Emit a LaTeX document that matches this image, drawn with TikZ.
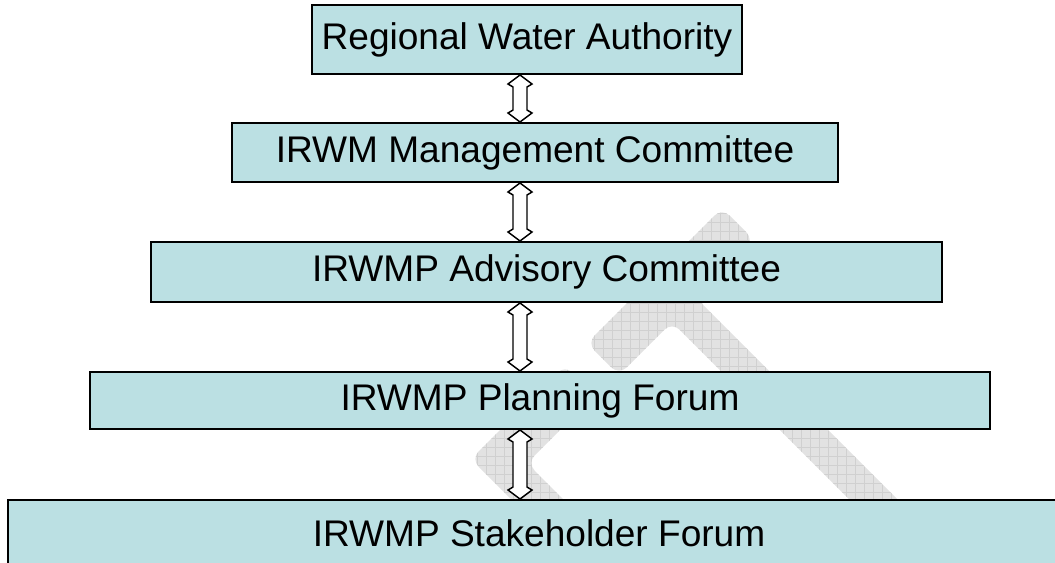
\documentclass[tikz,border=0pt]{standalone}
\usepackage{fontspec}
\setmainfont{Liberation Sans}
\usetikzlibrary{calc}
\definecolor{boxfill}{RGB}{187,224,227}
\definecolor{wmfill}{RGB}{226,226,226}
\definecolor{wmline}{RGB}{208,208,208}
\begin{document}
\begin{tikzpicture}[x=0.75pt,y=-0.75pt,
  box/.style={draw=black, line width=1.5pt, fill=boxfill, inner sep=0pt,
    font=\fontsize{27.8}{32}\selectfont},
  wmshape/.style={rounded corners=8pt},
  blockarrow/.style={draw=black, line width=1.1pt, fill=white, line join=miter,
    to path={(\tikztostart) -- ++(12,9) -- ++(-5,3)
      -- ($(\tikztotarget)+(7,-12)$) -- ++(5,3) -- (\tikztotarget)
      -- ++(-12,-9) -- ++(5,-3) -- ($(\tikztostart)+(-7,12)$) -- ++(-5,-3) -- cycle}}]
\useasboundingbox (0,0) rectangle (1055,562);
\fill[white] (0,0) rectangle (1055,562);

% watermark pieces
\begin{scope}
  \clip[wmshape] (587,343) -- (722,208) -- (754,240) -- (696,298) -- (1020,622)
     -- (972,622) -- (672,322) -- (619,375) -- cycle;
  \fill[wmfill] (450,150) rectangle (1055,562);
  \foreach \gx in {450,459,...,1055} \draw[wmline, line width=0.35pt] (\gx,150) -- (\gx,562);
  \foreach \gy in {150,159,...,562} \draw[wmline, line width=0.35pt] (450,\gy) -- (1055,\gy);
\end{scope}
\begin{scope}
  \clip[wmshape] (471,459) -- (565,365) -- (595,395) -- (527,463) -- (664,600)
     -- (612,600) -- cycle;
  \fill[wmfill] (450,150) rectangle (1055,562);
  \foreach \gx in {450,459,...,1055} \draw[wmline, line width=0.35pt] (\gx,150) -- (\gx,562);
  \foreach \gy in {150,159,...,562} \draw[wmline, line width=0.35pt] (450,\gy) -- (1055,\gy);
\end{scope}

% boxes
\node[box, minimum width=430*0.75pt, minimum height=69*0.75pt] (rwa) at (527,39.5) {Regional Water Authority};
\node[box, minimum width=606*0.75pt, minimum height=59*0.75pt] (mgmt) at (535,152.5) {IRWM Management Committee};
\node[box, minimum width=791*0.75pt, minimum height=60*0.75pt] (adv) at (546.5,272) {IRWMP Advisory Committee};
\node[box, minimum width=900*0.75pt, minimum height=57*0.75pt] (plan) at (540,400.5) {IRWMP Planning Forum};
\node[box, minimum width=1062*0.75pt, minimum height=66*0.75pt] (stake) at (539,533) {IRWMP Stakeholder Forum};

% connectors
\coordinate (ax) at (520,0);
\draw[blockarrow] (rwa.south -| ax) to (mgmt.north -| ax);
\draw[blockarrow] (mgmt.south -| ax) to (adv.north -| ax);
\draw[blockarrow] (adv.south -| ax) to (plan.north -| ax);
\draw[blockarrow] (plan.south -| ax) to (stake.north -| ax);
\end{tikzpicture}
\end{document}
